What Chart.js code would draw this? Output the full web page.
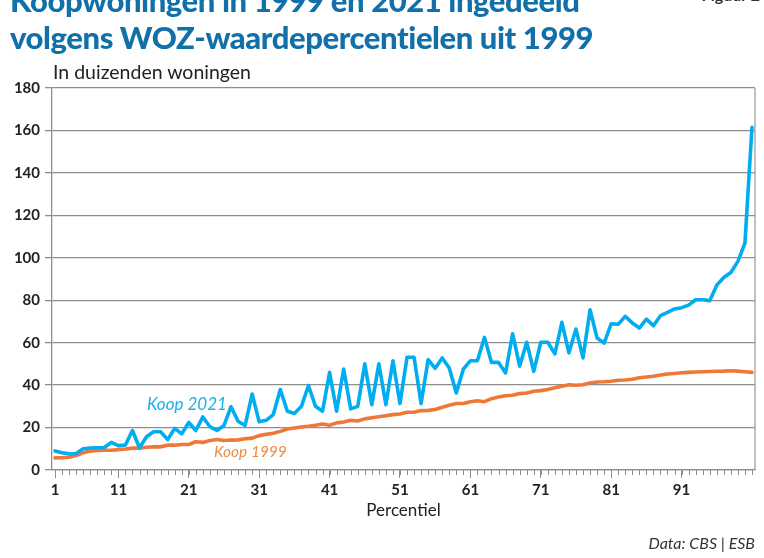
<!DOCTYPE html>
<html>
<head>
<meta charset="utf-8">
<script src="https://cdn.jsdelivr.net/npm/chart.js@4.4.1/dist/chart.umd.min.js"></script>
<style>
  body { margin: 0; background: #fff; }
  #wrap { position: relative; width: 764px; height: 558px; overflow: hidden; font-family: Lato, "Open Sans", sans-serif; }
  #chart { position: absolute; left: 0; top: 0; }
  .txt { position: absolute; white-space: nowrap; }
  #title { left: 10px; top: -18px; font-size: 31px; line-height: 37px; font-weight: 900; color: #1170aa; letter-spacing: -0.42px; }
  #fig { right: 4px; top: -15px; font-size: 16px; line-height: 19px; font-weight: bold; color: #333; }
  #sub { left: 53px; top: 61px; font-size: 19.5px; line-height: 22px; color: #222; }
  #src { right: 9px; top: 533px; font-size: 16px; line-height: 19px; font-style: italic; color: #333; }
  #lab21 { left: 147px; top: 394px; font-size: 17px; line-height: 20px; font-style: italic; color: #1ab0ea; }
  #lab99 { left: 214px; top: 442px; font-size: 15.5px; line-height: 19px; font-style: italic; color: #f08a3e; }
</style>
</head>
<body>
<div id="wrap">
  <canvas id="chart" width="764" height="558"></canvas>
  <div class="txt" id="title">Koopwoningen in 1999 en 2021 ingedeeld<br>volgens WOZ-waardepercentielen uit 1999</div>
  <div class="txt" id="fig">Figuur 2</div>
  <div class="txt" id="sub">In duizenden woningen</div>
  <div class="txt" id="lab21">Koop 2021</div>
  <div class="txt" id="lab99">Koop 1999</div>
  <div class="txt" id="src">Data: CBS | ESB</div>
</div>
<script>
// percentielen 1..100
const percentiles = Array.from({ length: 100 }, (_, i) => i + 1);

const koop2021 = [
  9.0, 8.1, 7.6, 7.8, 10.0, 10.4, 10.5, 10.6, 13.0, 11.5,
  11.8, 18.6, 10.5, 15.7, 18.0, 18.0, 14.3, 19.6, 17.0, 22.4,
  18.6, 25.0, 20.4, 18.6, 21.0, 29.8, 23.0, 21.0, 35.8, 22.7,
  23.4, 26.1, 37.9, 27.7, 26.6, 30.0, 39.8, 30.0, 27.7, 46.0,
  27.7, 47.6, 28.8, 30.0, 50.0, 30.8, 50.0, 30.8, 51.5, 31.3,
  53.1, 53.1, 31.3, 52.0, 47.9, 52.8, 48.1, 36.3, 47.5, 51.5,
  51.5, 62.5, 50.7, 50.7, 45.7, 64.2, 48.9, 60.2, 46.5, 60.2,
  60.2, 54.7, 69.6, 55.2, 66.4, 52.8, 75.5, 62.2, 59.8, 68.9,
  68.7, 72.4, 69.3, 66.9, 71.1, 68.0, 72.7, 74.3, 75.9, 76.5,
  77.7, 80.2, 80.2, 79.8, 87.1, 90.7, 93.1, 98.3, 106.9, 161.5
];

const koop1999 = [
  5.7, 5.8, 6.0, 6.8, 8.1, 8.9, 9.2, 9.3, 9.3, 9.6,
  9.9, 10.3, 10.3, 10.7, 10.9, 10.9, 11.7, 11.7, 12.0, 12.0,
  13.3, 13.0, 13.9, 14.4, 13.9, 14.1, 14.2, 14.7, 15.0, 16.2,
  16.8, 17.3, 18.2, 19.3, 19.8, 20.3, 20.6, 21.1, 21.7, 21.1,
  22.2, 22.6, 23.4, 23.1, 24.1, 24.6, 25.1, 25.6, 26.1, 26.4,
  27.2, 27.2, 28.0, 28.1, 28.5, 29.6, 30.5, 31.3, 31.3, 32.2,
  32.6, 32.2, 33.6, 34.4, 35.0, 35.2, 36.0, 36.3, 37.1, 37.4,
  37.9, 38.7, 39.5, 40.2, 39.9, 40.2, 41.0, 41.5, 41.6, 41.8,
  42.3, 42.4, 42.8, 43.5, 43.8, 44.2, 44.8, 45.2, 45.5, 45.8,
  46.0, 46.2, 46.3, 46.4, 46.5, 46.6, 46.8, 46.6, 46.3, 46.0
];

// as-labels zoals in de bron (label "11" staat bij de 10e streep enz.)
const xTickValues = [1, 10, 20, 30, 40, 50, 60, 70, 80, 90];
const xTickLabels = ['1', '11', '21', '31', '41', '51', '61', '71', '81', '91'];
const yTicks = [0, 20, 40, 60, 80, 100, 120, 140, 160, 180];

const GRID = '#8e8e8e';

// kleine streepjes per percentiel + rechter rand
const extras = {
  id: 'extras',
  afterDraw(chart) {
    const { ctx, chartArea } = chart;
    const x = chart.scales.x;
    ctx.save();
    ctx.strokeStyle = GRID;
    ctx.lineWidth = 1;
    percentiles.forEach(p => {
      const px = Math.round(x.getPixelForValue(p)) + 0.5;
      ctx.beginPath();
      ctx.moveTo(px, chartArea.bottom);
      ctx.lineTo(px, chartArea.bottom + 5);
      ctx.stroke();
    });
    ctx.lineWidth = 1.3;
    ctx.strokeStyle = '#a0a0a0';
    ctx.beginPath();
    ctx.moveTo(chartArea.right, chartArea.top);
    ctx.lineTo(chartArea.right, chartArea.bottom);
    ctx.stroke();
    ctx.restore();
  }
};

new Chart(document.getElementById('chart'), {
  type: 'line',
  data: {
    datasets: [
      {
        label: 'Koop 2021',
        data: percentiles.map((p, i) => ({ x: p, y: koop2021[i] })),
        borderColor: '#00aeef',
        borderWidth: 3.6,
        pointRadius: 0,
        borderJoinStyle: 'round',
        borderCapStyle: 'round'
      },
      {
        label: 'Koop 1999',
        data: percentiles.map((p, i) => ({ x: p, y: koop1999[i] })),
        borderColor: '#ee7838',
        borderWidth: 3.6,
        pointRadius: 0,
        borderJoinStyle: 'round',
        borderCapStyle: 'round'
      }
    ]
  },
  options: {
    responsive: false,
    devicePixelRatio: 1,
    animation: false,
    layout: { padding: { top: 88, right: 9, bottom: 28, left: 0 } },
    plugins: { legend: { display: false }, tooltip: { enabled: false } },
    scales: {
      x: {
        type: 'linear',
        min: 0.57,
        max: 100.43,
        afterBuildTicks: scale => { scale.ticks = xTickValues.map(v => ({ value: v })); },
        afterFit: scale => { scale.height = 60; },
        ticks: {
          autoSkip: false,
          maxRotation: 0,
          padding: 3,
          color: '#222',
          font: { family: 'Lato', size: 15, weight: 'bold' },
          callback: (v, i) => xTickLabels[i]
        },
        grid: { drawOnChartArea: false, drawTicks: true, tickLength: 8, color: GRID, lineWidth: 1 },
        border: { display: true, color: GRID, width: 1.3 },
        title: {
          display: true,
          text: 'Percentiel',
          color: '#222',
          font: { family: 'Lato', size: 17 },
          padding: { top: 0, bottom: 9 }
        }
      },
      y: {
        min: 0,
        max: 180,
        afterBuildTicks: scale => { scale.ticks = yTicks.map(v => ({ value: v })); },
        afterFit: scale => { scale.width = 52; },
        ticks: {
          padding: 5,
          color: '#222',
          font: { family: 'Lato', size: 15, weight: 'bold' }
        },
        grid: { color: GRID, lineWidth: 1.3, tickLength: 7 },
        border: { display: true, color: GRID, width: 1.3 }
      }
    }
  },
  plugins: [extras]
});
</script>
</body>
</html>
